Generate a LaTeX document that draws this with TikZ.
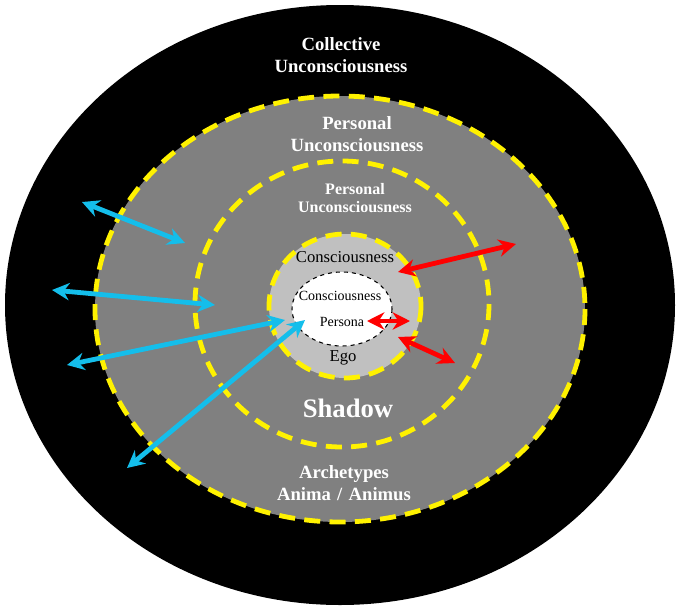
\documentclass[tikz,border=0pt]{standalone}
\usepackage{fontspec}
\setmainfont{Liberation Serif}
\usetikzlibrary{arrows.meta}
\begin{document}
\begin{tikzpicture}[x=0.75pt,y=-0.75pt,
  ydash/.style={draw=yellow,line width=3.6pt,dash pattern=on 12pt off 7pt},
  blu/.style={draw={rgb,255:red,20;green,190;blue,235},line width=3.6pt,{Stealth[length=13pt,width=13pt]}-{Stealth[length=13pt,width=13pt]}},
  rd/.style={draw=red,line width=3.6pt,{Stealth[length=13pt,width=13pt]}-{Stealth[length=13pt,width=13pt]}},
  wt/.style={text=white,font=\bfseries,align=center,inner sep=0pt},
  bt/.style={text=black,align=center,inner sep=0pt}]
\useasboundingbox (0,0) rectangle (679,615);
\fill[white] (0,0) rectangle (679,615);
\fill[black] (340,305) ellipse [x radius=335,y radius=300];
\path[fill={rgb,255:red,128;green,128;blue,128},ydash] (340,309) ellipse [x radius=245,y radius=213];
\path[ydash] (342,304) ellipse [x radius=147,y radius=143];
\path[fill={rgb,255:red,192;green,192;blue,192},ydash] (345,306) ellipse [x radius=76,y radius=72];
\path[fill=white,draw=black,dashed,line width=0.8pt] (342,309) ellipse [x radius=50,y radius=37];
\coordinate (b1a) at (82,202); \coordinate (b1b) at (185,243);
\coordinate (b2a) at (52,290); \coordinate (b2b) at (215,305);
\coordinate (b3a) at (67,365); \coordinate (b3b) at (285,320);
\coordinate (b4a) at (127,468); \coordinate (b4b) at (305,320);
\coordinate (r1a) at (398,272); \coordinate (r1b) at (516,244);
\coordinate (r2a) at (367,321); \coordinate (r2b) at (410,321);
\coordinate (r3a) at (398,337); \coordinate (r3b) at (455,363);
\draw[blu] (b1a) -- (b1b);
\draw[blu] (b2a) -- (b2b);
\draw[blu] (b3a) -- (b3b);
\draw[blu] (b4a) -- (b4b);
\draw[rd] (r1a) -- (r1b);
\draw[rd] (r2a) -- (r2b);
\draw[rd] (r3a) -- (r3b);
\node[wt,font=\bfseries\fontsize{14}{17}\selectfont] (t1) at (341,55) {Collective\\Unconsciousness};
\node[wt,font=\bfseries\fontsize{14}{17}\selectfont] (t2) at (357,134) {Personal\\Unconsciousness};
\node[wt,font=\bfseries\fontsize{12}{14}\selectfont] (t3) at (355,198) {Personal\\Unconsciousness};
\node[bt,font=\fontsize{12.5}{15}\selectfont] (t4) at (345,257) {Consciousness};
\node[bt,font=\fontsize{10.5}{12}\selectfont] (t5) at (340,296) {Consciousness};
\node[bt,font=\fontsize{10.5}{12}\selectfont] (t6) at (342,322) {Persona};
\node[bt,font=\fontsize{12.5}{15}\selectfont] (t7) at (343,358) {Ego};
\node[wt,font=\bfseries\fontsize{20}{24}\selectfont] (t8) at (348,408) {Shadow};
\node[wt,font=\bfseries\fontsize{14}{17}\selectfont] (t9) at (344,483) {Archetypes\\Anima\,\,/\,\,Animus};
\end{tikzpicture}
\end{document}
